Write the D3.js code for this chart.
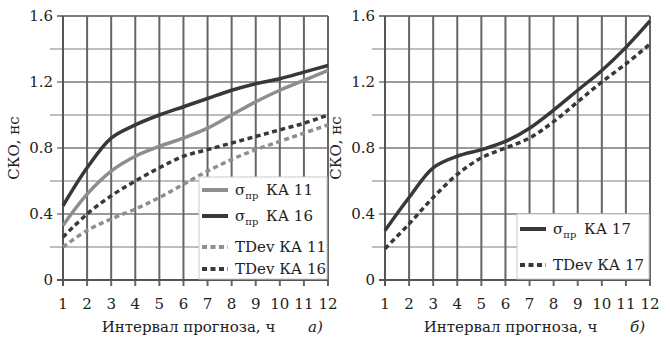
<!DOCTYPE html>
<html>
<head>
<meta charset="utf-8">
<script src="https://cdn.jsdelivr.net/npm/d3@7"></script>
<style>
  body { margin: 0; background: #fff; }
  svg text { font-family: "DejaVu Serif"; fill: #222; }
</style>
</head>
<body>
<script>
var hours = [1, 2, 3, 4, 5, 6, 7, 8, 9, 10, 11, 12];
var yTicks = [0, 0.4, 0.8, 1.2, 1.6];
var yMinor = [0.2, 0.6, 1.0, 1.4];

// panel a
var sigma11 = [0.33, 0.52, 0.66, 0.75, 0.81, 0.86, 0.92, 1.0, 1.08, 1.15, 1.21, 1.27];
var sigma16 = [0.45, 0.68, 0.86, 0.94, 1.0, 1.05, 1.10, 1.15, 1.19, 1.22, 1.26, 1.30];
var tdev11 = [0.20, 0.30, 0.37, 0.43, 0.50, 0.58, 0.66, 0.73, 0.79, 0.84, 0.89, 0.94];
var tdev16 = [0.26, 0.40, 0.51, 0.60, 0.68, 0.75, 0.79, 0.83, 0.87, 0.91, 0.95, 1.0];

// panel b
var sigma17 = [0.30, 0.50, 0.68, 0.75, 0.79, 0.84, 0.92, 1.03, 1.15, 1.27, 1.41, 1.57];
var tdev17 = [0.19, 0.34, 0.50, 0.64, 0.74, 0.80, 0.86, 0.96, 1.08, 1.20, 1.31, 1.43];

var dark = '#383838';
var light = '#8e8e8e';

var width = 670;
var height = 338;

var svg = d3.select('body').append('svg')
  .attr('width', width)
  .attr('height', height)
  .attr('font-family', 'DejaVu Serif');

var y = d3.scaleLinear().domain([0, 1.6]).range([280, 16]);

function drawPanel(x0, x1, series, legend, letter) {
  var x = d3.scaleLinear().domain([1, 12]).range([x0, x1]);
  var g = svg.append('g');

  // horizontal grid, minor lighter
  g.selectAll('.hmin').data(yMinor).enter().append('line')
    .attr('x1', x0 - 13).attr('x2', x1)
    .attr('y1', function(d) { return y(d); }).attr('y2', function(d) { return y(d); })
    .attr('stroke', '#a8a8a8').attr('stroke-width', 1.5);
  g.selectAll('.hmaj').data(yTicks).enter().append('line')
    .attr('x1', x0 - 6).attr('x2', x1)
    .attr('y1', function(d) { return y(d); }).attr('y2', function(d) { return y(d); })
    .attr('stroke', function(d) { return d == 1.6 ? '#555' : '#7a7a7a'; })
    .attr('stroke-width', 1.5);

  // vertical grid + ticks below
  g.selectAll('.v').data(hours).enter().append('line')
    .attr('x1', function(d) { return x(d); }).attr('x2', function(d) { return x(d); })
    .attr('y1', y(1.6)).attr('y2', y(0) + 6)
    .attr('stroke', '#666').attr('stroke-width', 2);

  // axis lines
  g.append('line').attr('x1', x0).attr('x2', x0).attr('y1', y(1.6)).attr('y2', y(0) + 6)
    .attr('stroke', '#555').attr('stroke-width', 2);
  g.append('line').attr('x1', x0 - 6).attr('x2', x1).attr('y1', y(0)).attr('y2', y(0))
    .attr('stroke', '#555').attr('stroke-width', 2);

  // tick labels
  g.selectAll('.yl').data(yTicks).enter().append('text')
    .attr('x', x0 - 10).attr('y', function(d) { return y(d) + 5; })
    .attr('text-anchor', 'end').attr('font-size', 15)
    .text(function(d) { return d == 0 ? '0' : d.toFixed(1); });
  g.selectAll('.xl').data(hours).enter().append('text')
    .attr('x', function(d) { return x(d); }).attr('y', 309)
    .attr('text-anchor', 'middle').attr('font-size', 15)
    .text(function(d) { return d; });

  // series
  var line = d3.line()
    .x(function(d, i) { return x(hours[i]); })
    .y(function(d) { return y(d); })
    .curve(d3.curveCatmullRom.alpha(0.5));
  series.forEach(function(s) {
    g.append('path').attr('d', line(s.values))
      .attr('fill', 'none').attr('stroke', s.color).attr('stroke-width', 3.5)
      .attr('stroke-dasharray', s.dash ? '5,3.5' : null);
  });

  // legend
  var lg = g.append('g');
  lg.append('rect')
    .attr('x', legend.x).attr('y', legend.y)
    .attr('width', x1 - legend.x - 1).attr('height', y(0) - legend.y - 1)
    .attr('fill', '#fff').attr('stroke', '#ccc').attr('stroke-width', 1);
  legend.items.forEach(function(it) {
    lg.append('line')
      .attr('x1', legend.x + 3).attr('x2', legend.x + 29)
      .attr('y1', it.y).attr('y2', it.y)
      .attr('stroke', it.color).attr('stroke-width', 4)
      .attr('stroke-dasharray', it.dash ? '5,3.5' : null);
    var t = lg.append('text').attr('x', legend.x + 36).attr('y', it.y + 5).attr('font-size', 15);
    if (it.sigma) {
      t.append('tspan').text('σ');
      t.append('tspan').attr('font-size', 10).attr('dy', 4).text('пр');
      t.append('tspan').attr('dy', -4).attr('dx', 3).text(' ' + it.label);
    } else {
      t.text('TDev ' + it.label);
    }
  });

  // axis titles
  g.append('text')
    .attr('transform', 'translate(' + (x0 - 44) + ',' + y(0.8) + ') rotate(-90)')
    .attr('text-anchor', 'middle').attr('font-size', 15)
    .text('СКО, нс');
  g.append('text')
    .attr('x', (x0 + x1) / 2 - 7).attr('y', 332)
    .attr('text-anchor', 'middle').attr('font-size', 15)
    .text('Интервал прогноза, ч');
  g.append('text')
    .attr('x', x1 - 20).attr('y', 332)
    .attr('font-size', 15).attr('font-style', 'italic')
    .text(letter);
}

drawPanel(63, 328, [
  { values: tdev11, color: light, dash: true },
  { values: tdev16, color: dark, dash: true },
  { values: sigma11, color: light },
  { values: sigma16, color: dark }
], {
  x: 199, y: 177,
  items: [
    { y: 190, color: light, sigma: true, label: 'КА 11' },
    { y: 216, color: dark, sigma: true, label: 'КА 16' },
    { y: 247, color: light, dash: true, label: 'КА 11' },
    { y: 269, color: dark, dash: true, label: 'КА 16' }
  ]
}, 'а)');

drawPanel(385, 650, [
  { values: tdev17, color: dark, dash: true },
  { values: sigma17, color: dark }
], {
  x: 517, y: 214,
  items: [
    { y: 229, color: dark, sigma: true, label: 'КА 17' },
    { y: 265, color: dark, dash: true, label: 'КА 17' }
  ]
}, 'б)');
</script>
</body>
</html>
